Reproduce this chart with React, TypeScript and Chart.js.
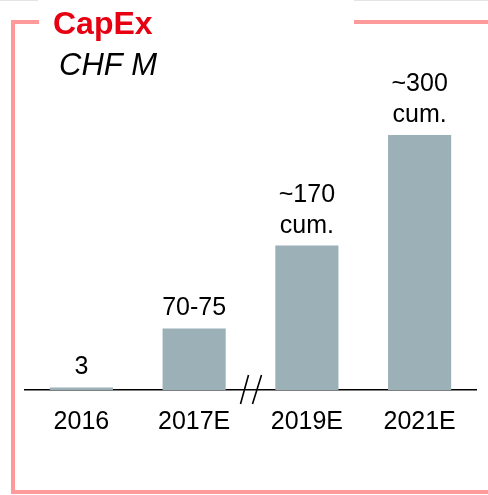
import React, { useEffect, useRef } from "react";
import { Chart, registerables } from "chart.js";

Chart.register(...registerables);

const categories = ["2016", "2017E", "2019E", "2021E"];
const values = [3, 72.5, 170, 300];
const valueLabels = ["3", "70-75", "~170\ncum.", "~300\ncum."];
const titleText = "CapEx";
const unitText = "CHF M";

const FONT = "'Liberation Sans', Arial, Helvetica, sans-serif";
const FRAME = "#ff9a9a";
const BAR = "#9cb0b8";

const decorPlugin = {
  id: "decor",
  beforeDraw(chart: any) {
    const ctx = chart.ctx;
    ctx.save();
    ctx.fillStyle = "#ffffff";
    ctx.fillRect(0, 0, chart.width, chart.height);
    // faint top line
    ctx.strokeStyle = "#e4e4e4";
    ctx.lineWidth = 1;
    ctx.beginPath();
    ctx.moveTo(0, 0.5);
    ctx.lineTo(38, 0.5);
    ctx.moveTo(354, 0.5);
    ctx.lineTo(chart.width, 0.5);
    ctx.stroke();
    // pink frame
    ctx.strokeStyle = FRAME;
    ctx.lineWidth = 4;
    ctx.lineCap = "butt";
    ctx.beginPath();
    ctx.moveTo(39, 22);
    ctx.lineTo(13, 22);
    ctx.lineTo(13, 492);
    ctx.lineTo(chart.width, 492);
    ctx.moveTo(354, 22);
    ctx.lineTo(chart.width, 22);
    ctx.stroke();
    // titles
    ctx.textAlign = "left";
    ctx.textBaseline = "alphabetic";
    ctx.fillStyle = "#e60012";
    ctx.font = `bold 32px ${FONT}`;
    ctx.fillText(titleText, 53, 34);
    ctx.fillStyle = "#000000";
    ctx.font = `italic 31px ${FONT}`;
    ctx.fillText(unitText, 59, 75);
    ctx.restore();
  },
  afterDatasetsDraw(chart: any) {
    const ctx = chart.ctx;
    const meta = chart.getDatasetMeta(0);
    ctx.save();
    ctx.fillStyle = "#000000";
    ctx.font = `25px ${FONT}`;
    ctx.textAlign = "center";
    ctx.textBaseline = "alphabetic";
    meta.data.forEach((el: any, i: number) => {
      const lines = valueLabels[i].split("\n");
      const n = lines.length;
      lines.forEach((ln, j) => {
        ctx.fillText(ln, el.x, el.y - 13 - (n - 1 - j) * 31);
      });
    });
    // axis break marks
    const xs = chart.scales.x;
    const bx = (xs.getPixelForValue(1) + xs.getPixelForValue(2)) / 2;
    const by = chart.chartArea.bottom;
    ctx.strokeStyle = "#000000";
    ctx.lineWidth = 1.6;
    ctx.beginPath();
    ctx.moveTo(bx - 10, by + 14);
    ctx.lineTo(bx - 2, by - 15);
    ctx.moveTo(bx + 2, by + 14);
    ctx.lineTo(bx + 11, by - 15);
    ctx.stroke();
    ctx.restore();
  },
};

export default function App() {
  const ref = useRef<HTMLCanvasElement>(null);
  useEffect(() => {
    if (!ref.current) return;
    const chart = new Chart(ref.current, {
      type: "bar",
      data: {
        labels: categories,
        datasets: [
          {
            data: values,
            backgroundColor: BAR,
            borderWidth: 0,
            barPercentage: 0.56,
            categoryPercentage: 1,
          },
        ],
      },
      options: {
        responsive: false,
        animation: false,
        layout: { padding: { top: 50, left: 25, right: 12, bottom: 45 } },
        plugins: {
          legend: { display: false },
          tooltip: { enabled: false },
          title: { display: false },
        },
        scales: {
          x: {
            grid: { display: false, drawTicks: false },
            border: { display: true, color: "#000000", width: 1.5 },
            ticks: {
              color: "#000000",
              font: { family: FONT, size: 25 },
              padding: 17,
              maxRotation: 0,
            },
            afterFit: (s: any) => {
              s.height = 60;
            },
          },
          y: {
            display: false,
            min: 0,
            max: 400,
          },
        },
      },
      plugins: [decorPlugin],
    });
    return () => chart.destroy();
  }, []);
  return (
    <div style={{ position: "fixed", left: 0, top: 0, width: 488, height: 495 }}>
      <canvas ref={ref} width={488} height={495} style={{ display: "block" }} />
    </div>
  );
}
